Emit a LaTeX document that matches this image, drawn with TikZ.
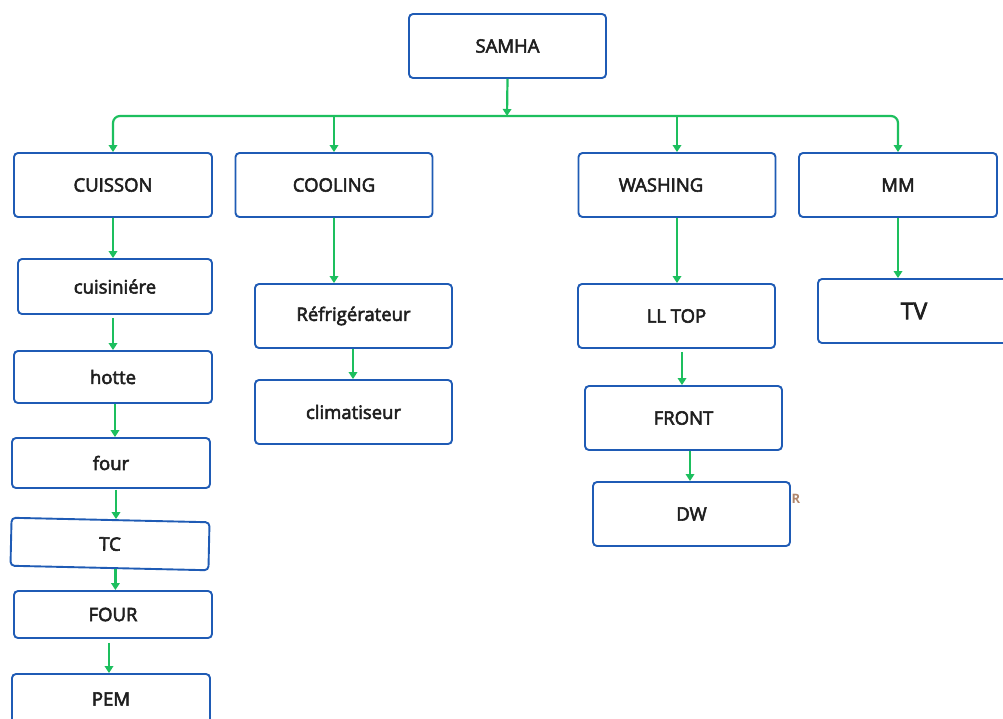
\documentclass[tikz,border=0pt]{standalone}
\usepackage{fontspec}
\setmainfont{Open Sans}
\newfontfamily\medfont{Open Sans}[FakeBold=3]
\usetikzlibrary{arrows.meta}
\definecolor{boxblue}{HTML}{1F5BB5}
\definecolor{arrgreen}{HTML}{1DBF5E}
\definecolor{rbrown}{HTML}{B0866C}
\tikzset{
  box/.style={draw=boxblue, line width=1.9pt, rounded corners=4pt, fill=white, inner sep=0pt,
    font=\medfont\fontsize{18.5}{21}\selectfont, text=black!88},
  conn/.style={draw=arrgreen, line width=2.2pt, -{Triangle[length=7pt,width=8.5pt]}},
}
\begin{document}
\begin{tikzpicture}[x=1pt,y=-1pt]
\useasboundingbox (0,0) rectangle (1003,718);
\clip (0,0) rectangle (1003,718);
\fill[white] (0,0) rectangle (1003,718);

% top
\node[box, minimum width=197pt, minimum height=64pt] (samha) at (507.5,46) {SAMHA};
\coordinate (bus) at (507,116);

% level 1
\node[box, minimum width=198pt, minimum height=64pt] (cuisson) at (113,185) {CUISSON};
\node[box, minimum width=197pt, minimum height=64pt] (cooling) at (334,185) {COOLING};
\node[box, minimum width=197pt, minimum height=64pt] (washing) at (677,185) {WASHING\hspace*{32pt}};
\node[box, minimum width=198pt, minimum height=64pt] (mm) at (898,185) {MM};

% cuisson column
\node[box, minimum width=194pt, minimum height=55pt] (cuisine) at (115,286.5) {\raisebox{-5pt}{cuisiniére}};
\node[box, minimum width=198pt, minimum height=52pt] (hotte) at (113,377) {hotte};
\node[box, minimum width=198pt, minimum height=50pt] (four) at (111,463) {four};
\node[box, minimum width=198pt, minimum height=48pt, rotate=-1.3] (tc) at (110,544) {TC};
\node[box, minimum width=198pt, minimum height=47pt] (fourb) at (113,614.5) {FOUR};
\node[box, minimum width=198pt, minimum height=56pt] (pem) at (111,702) {\raisebox{6pt}{PEM}};

% cooling column
\node[box, minimum width=197pt, minimum height=64pt] (refri) at (353.5,316) {Réfrigérateur};
\node[box, minimum width=197pt, minimum height=64pt] (clim) at (353.5,412) {climatiseur};

% washing column
\node[box, minimum width=197pt, minimum height=64pt] (lltop) at (676.5,316) {\raisebox{-3pt}{LL TOP}};
\node[box, minimum width=197pt, minimum height=64pt] (front) at (683.5,418) {FRONT};
\node[box, minimum width=197pt, minimum height=64pt] (dw) at (691.5,514) {\raisebox{-3pt}{DW}};
\node[text=rbrown, font=\bfseries\fontsize{13}{15}\selectfont] (r) at (796,499) {R};

% mm column
\node[box, minimum width=192pt, minimum height=64pt, font=\medfont\fontsize{23}{26}\selectfont] (tv) at (914,311) {TV};

% connectors: bus
\draw[conn] (samha.south) -- (bus);
\draw[conn, rounded corners=7pt] (bus) -| (cuisson.north);
\draw[conn, rounded corners=7pt] (bus) -| (mm.north);
\draw[conn] (bus -| cooling.north) -- (cooling.north);
\draw[conn] (bus -| washing.north) -- (washing.north);

% cuisson chain
\draw[conn] (cuisson.south) -- (cuisson.south |- cuisine.north);
\draw[conn, shorten <=3pt] (cuisine.south -| cuisson.south) -- (cuisson.south |- hotte.north);
\draw[conn] ([xshift=2pt]hotte.south) -- ([xshift=2pt]hotte.south |- four.north);
\draw[conn, shorten <=1pt] ([xshift=5pt]four.south) -- ([xshift=5pt]four.south |- tc.north);
\draw[conn] ([xshift=6pt]tc.south) -- ([xshift=6pt]tc.south |- fourb.north);
\draw[conn, shorten <=4pt] ([xshift=-4pt]fourb.south) -- ([xshift=-4pt]fourb.south |- pem.north);

% cooling chain
\draw[conn] (cooling.south) -- (refri.north -| cooling.south);
\draw[conn] ([xshift=-0.5pt]refri.south) -- ([xshift=-0.5pt]clim.north);

% washing chain
\draw[conn] (washing.south) -- (washing.south |- lltop.north);
\draw[conn, shorten <=3pt] ([xshift=5.5pt]lltop.south) -- ([xshift=5.5pt]lltop.south |- front.north);
\draw[conn] ([xshift=6.5pt]front.south) -- ([xshift=6.5pt]front.south |- dw.north);

% mm chain
\draw[conn] (mm.south) -- (mm.south |- tv.north);
\end{tikzpicture}
\end{document}
